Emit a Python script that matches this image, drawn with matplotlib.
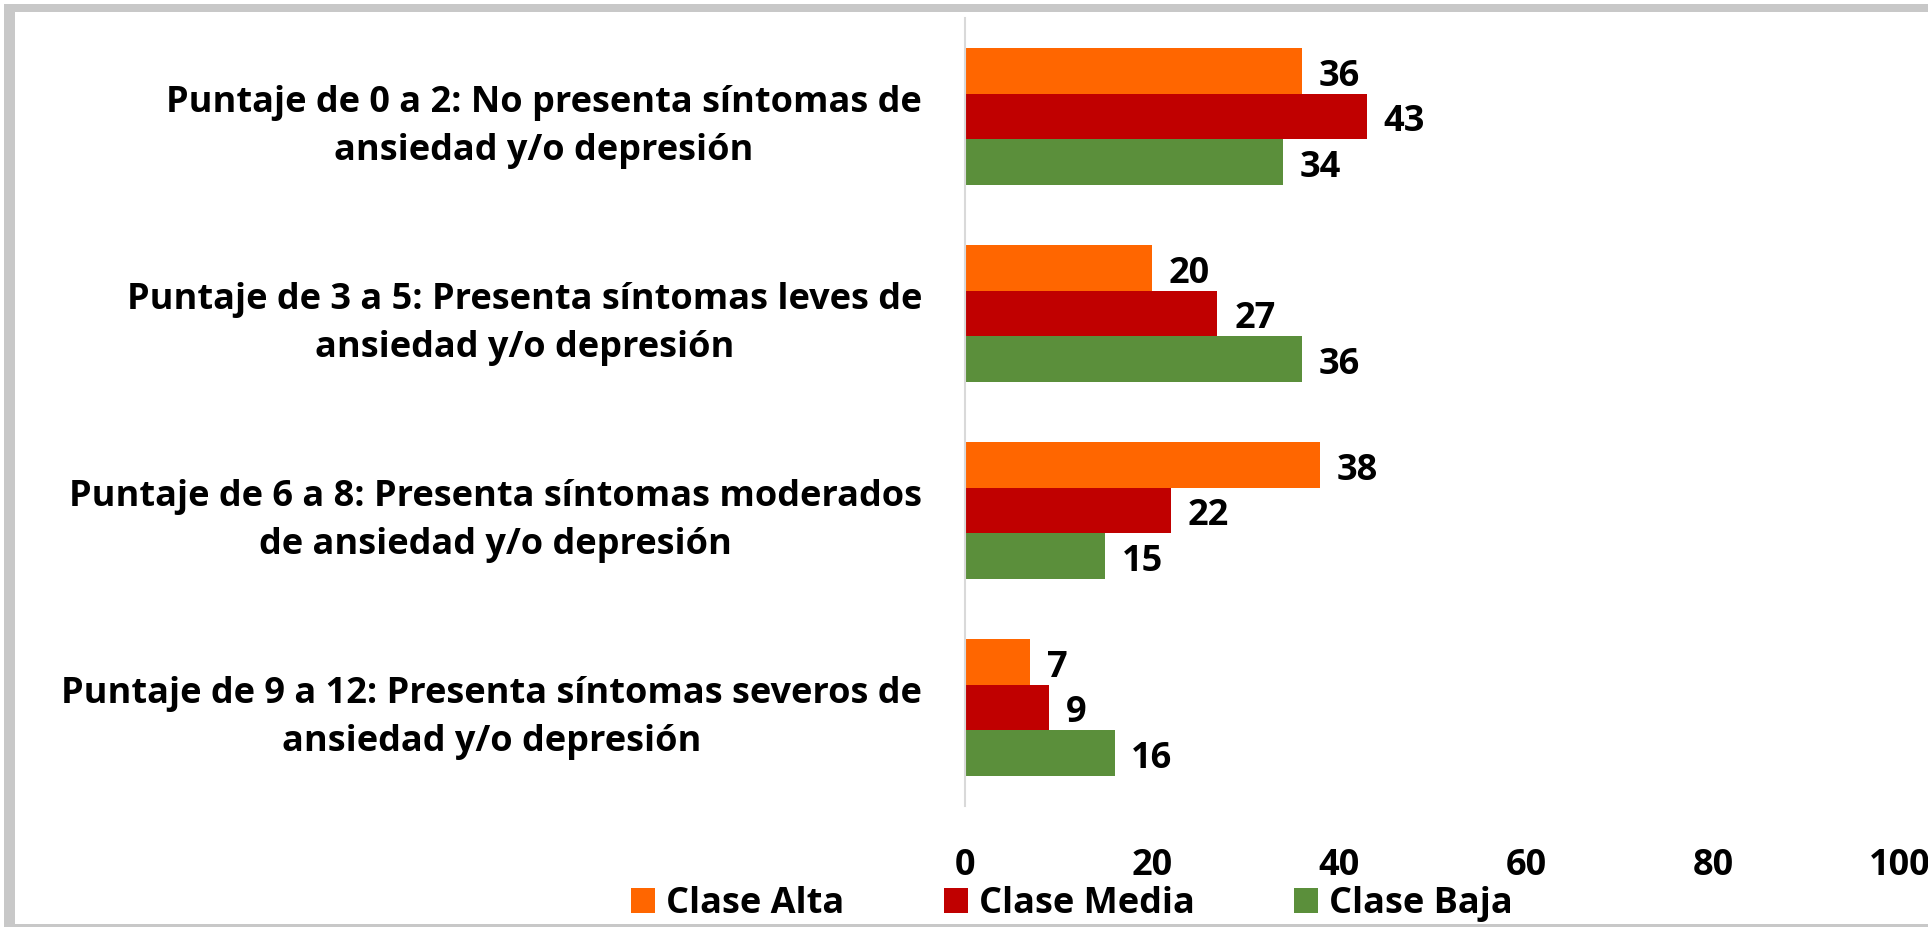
import matplotlib
matplotlib.use("Agg")
import matplotlib.pyplot as plt
from matplotlib.patches import Rectangle
import numpy as np

categories = [
    "Puntaje de 0 a 2: No presenta síntomas de\nansiedad y/o depresión",
    "Puntaje de 3 a 5: Presenta síntomas leves de\nansiedad y/o depresión",
    "Puntaje de 6 a 8: Presenta síntomas moderados\nde ansiedad y/o depresión",
    "Puntaje de 9 a 12: Presenta síntomas severos de\nansiedad y/o depresión",
]
series_names = ["Clase Alta", "Clase Media", "Clase Baja"]
clase_alta = [36, 20, 38, 7]
clase_media = [43, 27, 22, 9]
clase_baja = [34, 36, 15, 16]
x_ticks = [0, 20, 40, 60, 80, 100]

colors = ["#FF6600", "#C00000", "#5B8F3B"]
FONT = "Open Sans"
FS = 26

W, H = 1928, 927
fig = plt.figure(figsize=(W / 100, H / 100), dpi=100)
fig.patch.set_facecolor("white")

# grey frame on the left, top and bottom edges
gray = "#C8C8C8"
for (x0, y0, x1, y1) in [(4, 4, 15, 927), (4, 4, W, 12), (4, 924, W, 927)]:
    fig.patches.append(Rectangle((x0 / W, 1 - y1 / H), (x1 - x0) / W, (y1 - y0) / H,
                                 transform=fig.transFigure, facecolor=gray,
                                 edgecolor="none", zorder=0))

ax = fig.add_axes([965 / W, 1 - 806 / H, (1900 - 965) / W, (806 - 18) / H])
ax.set_facecolor("none")

y = np.arange(len(categories))
h = 0.231
all_series = [clase_alta, clase_media, clase_baja]
for i, (vals, name, c) in enumerate(zip(all_series, series_names, colors)):
    bars = ax.barh(y + (i - 1) * h, vals, height=h, color=c, label=name,
                   edgecolor="none", zorder=2)
    for b, v in zip(bars, vals):
        ax.annotate(f"{v}", xy=(b.get_width(), b.get_y() + b.get_height() / 2),
                    xytext=(12, -4), textcoords="offset points",
                    ha="left", va="center", fontsize=FS, fontweight="bold",
                    family=FONT, color="black")

ax.set_ylim(3.5, -0.5)
ax.set_xlim(0, 100)
ax.set_xticks(x_ticks)
ax.set_xticklabels([str(t) for t in x_ticks], fontsize=FS, fontweight="bold", family=FONT)
ax.set_yticks(y)
ax.set_yticklabels(categories, fontsize=FS, fontweight="bold", family=FONT)
for lab in ax.get_yticklabels():
    lab.set_multialignment("center")
    lab.set_linespacing(1.45)
ax.tick_params(axis="both", length=0)
ax.tick_params(axis="y", pad=31)
ax.tick_params(axis="x", pad=30)

for s in ["top", "right", "bottom"]:
    ax.spines[s].set_visible(False)
ax.spines["left"].set_color("#D9D9D9")
ax.spines["left"].set_linewidth(1.5)

leg = fig.legend(loc="center", bbox_to_anchor=(1072 / W, 1 - 904 / H), ncol=3,
                 frameon=False, handlelength=0.67, handleheight=0.67,
                 handletextpad=0.3, columnspacing=2.75, borderpad=0.1,
                 prop={"family": FONT, "weight": "bold", "size": FS})

fig.savefig("out.png", dpi=100, facecolor="white")
